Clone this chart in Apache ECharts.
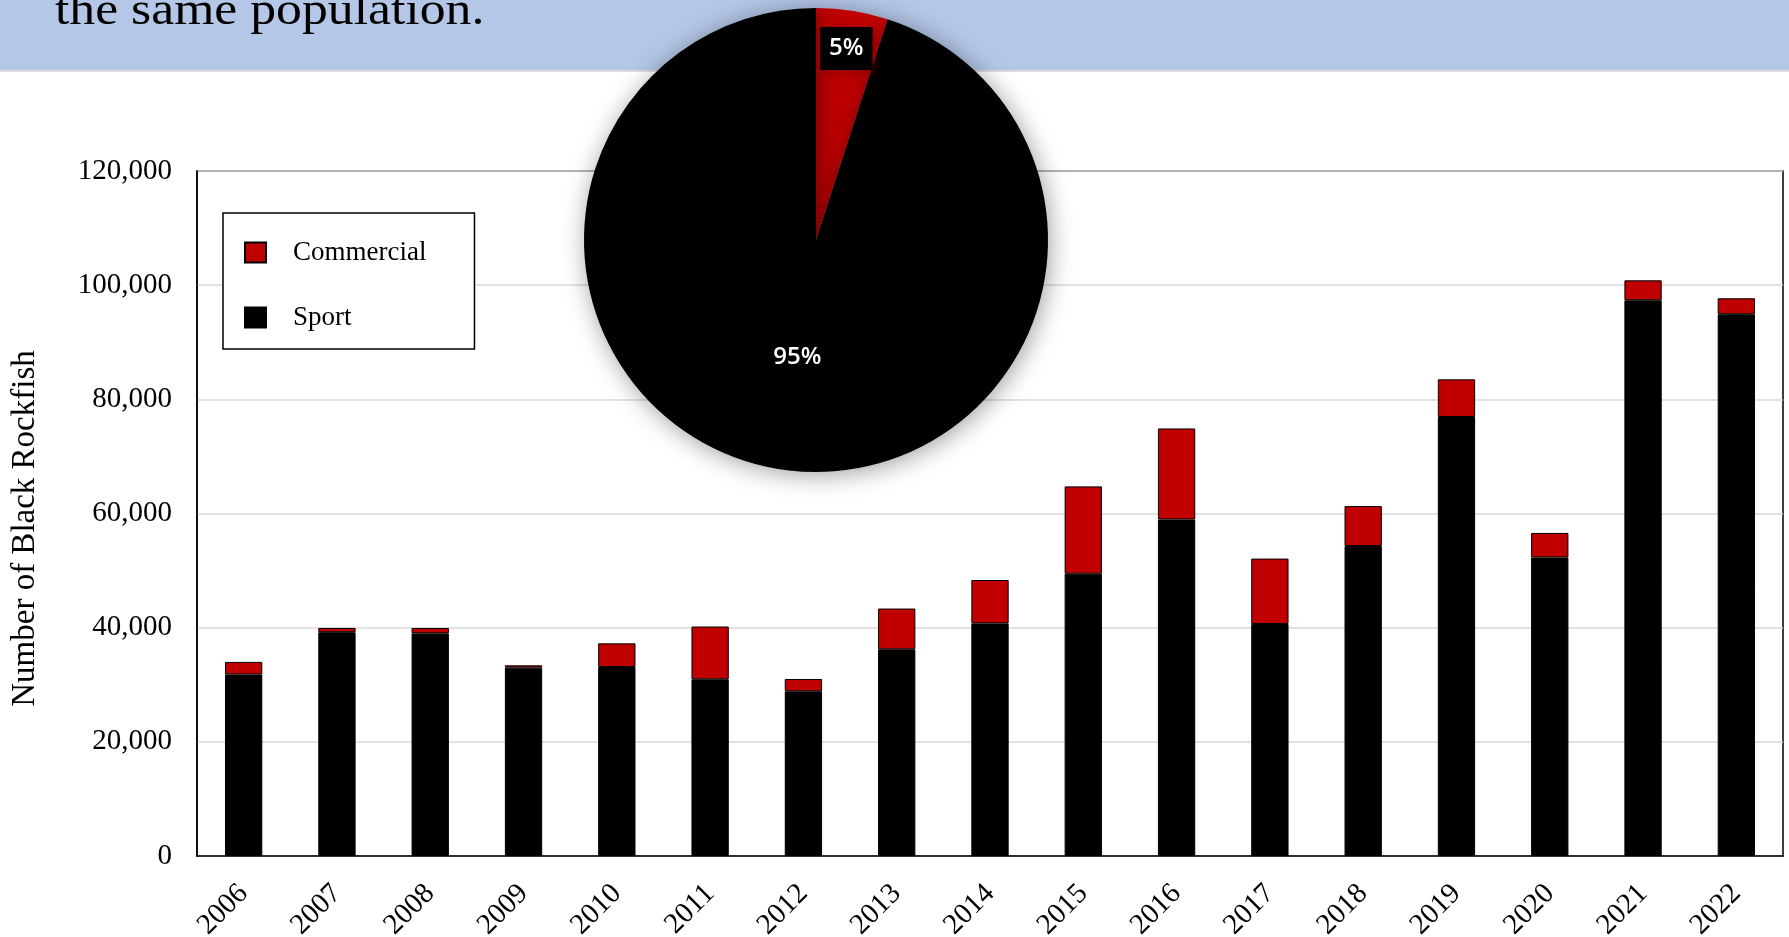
<!DOCTYPE html>
<html>
<head>
<meta charset="utf-8">
<script src="https://cdn.jsdelivr.net/npm/echarts@6/dist/echarts.min.js"></script>
<style>
html,body{margin:0;padding:0;background:#fff;}
#chart{width:1789px;height:937px;}
</style>
</head>
<body>
<div id="chart"></div>
<script>
// ---- data ----
const years = ['2006','2007','2008','2009','2010','2011','2012','2013','2014','2015','2016','2017','2018','2019','2020','2021','2022'];
const sport = [31800, 39200, 39000, 33000, 33100, 30950, 28850, 36200, 40750, 49450, 58950, 40650, 54300, 76900, 52300, 97350, 94900];
const commercial = [2200, 750, 950, 400, 4150, 9250, 2150, 7150, 7600, 15300, 15950, 11450, 7000, 6600, 4300, 3500, 2800];
const pieNames = ['Commercial', 'Sport'];
const pieShares = [5, 95];
const yTicks = { min: 0, max: 120000, step: 20000 };
const bannerText = 'the same population.';
const yTitle = 'Number of Black Rockfish';

const RED = '#c00000';
const BLACK = '#000000';
const SERIF = '"Liberation Serif", "Times New Roman", serif';
const SANS = '"Open Sans", "Noto Sans", sans-serif';

const chart = echarts.init(document.getElementById('chart'));

const pieData = pieNames.map((n, i) => ({
  name: n,
  value: pieShares[i],
  itemStyle: { color: i === 0 ? RED : BLACK }
}));

const option = {
  animation: false,
  backgroundColor: '#ffffff',
  graphic: [
    { type: 'rect', z: 0, zlevel: 0, silent: true,
      shape: { x: 0, y: 0, width: 1789, height: 70 },
      style: { fill: '#b4c7e7' } },
    { type: 'rect', z: 0, silent: true,
      shape: { x: 0, y: 70, width: 1789, height: 2 },
      style: { fill: '#dcdcdc' } },
    { type: 'text', z: 1, silent: true,
      x: 55, y: 12, scaleX: 1.1,
      style: { text: bannerText, font: '47px ' + SERIF, fill: '#000', verticalAlign: 'middle', align: 'left' } }
  ],
  legend: {
    orient: 'vertical',
    left: 223, top: 213,
    data: ['Commercial', 'Sport'],
    backgroundColor: '#fff',
    borderColor: '#000',
    borderWidth: 1.5,
    borderRadius: 0,
    padding: [26, 48, 18, 21],
    itemWidth: 21, itemHeight: 20, itemGap: 38,
    icon: 'rect',
    textStyle: { fontFamily: SERIF, fontSize: 27, color: '#000', padding: [0, 0, 0, 22] },
    z: 5
  },
  grid: {
    left: 197, right: 6, top: 171, bottom: 81,
    outerBoundsMode: 'none',
    containLabel: false,
    show: true, borderColor: '#000', borderWidth: 1.5, backgroundColor: 'transparent'
  },
  xAxis: {
    type: 'category',
    data: years,
    axisLine: { lineStyle: { color: '#000', width: 1.5 } },
    axisTick: { show: false },
    axisLabel: { rotate: 45, interval: 0, margin: 33, fontFamily: SERIF, fontSize: 29, color: '#000' }
  },
  yAxis: {
    type: 'value',
    min: yTicks.min, max: yTicks.max, interval: yTicks.step,
    name: yTitle,
    nameLocation: 'middle',
    nameGap: 155,
    nameTextStyle: { fontFamily: SERIF, fontSize: 33, color: '#000', padding: [0, 30, 0, 0] },
    axisLine: { show: true, lineStyle: { color: '#000', width: 1.5 } },
    axisTick: { show: false },
    splitLine: { lineStyle: { color: '#d9d9d9', width: 1.5 } },
    axisLabel: { margin: 25, fontFamily: SERIF, fontSize: 29, color: '#000',
      formatter: v => v.toLocaleString('en-US') }
  },
  series: [
    { name: 'Sport', type: 'bar', stack: 'total', data: sport, barWidth: '40%',
      itemStyle: { color: BLACK, borderColor: '#000', borderWidth: 1 } },
    { name: 'Commercial', type: 'bar', stack: 'total', data: commercial, barWidth: '40%',
      itemStyle: { color: RED, borderColor: '#000', borderWidth: 1 } },
    { name: 'share', type: 'pie', z: 10,
      center: [816, 240], radius: 232,
      startAngle: 90, clockwise: true,
      data: pieData,
      silent: true,
      legendHoverLink: false,
      itemStyle: { borderWidth: 0, shadowBlur: 24, shadowColor: 'rgba(0,0,0,0.38)', shadowOffsetX: 2, shadowOffsetY: 3 },
      label: { show: true, position: 'inside', formatter: p => (p.dataIndex === 1 ? p.value + '%' : ''),
        fontFamily: SANS, fontWeight: 600, fontSize: 24, color: '#fff' },
      labelLine: { show: false }
    },
    { name: 'shareLabel', type: 'pie', z: 11,
      center: [816, 240], radius: [150, 232],
      startAngle: 90, clockwise: true,
      data: pieData.map((d, i) => ({ name: d.name, value: d.value,
        itemStyle: { color: 'rgba(0,0,0,0)' },
        label: { show: i === 0 } })),
      silent: true,
      label: { position: 'inside',
        formatter: p => p.value + '%',
        fontFamily: SANS, fontWeight: 600, fontSize: 24, color: '#fff',
        backgroundColor: '#000', padding: [10, 9, 9, 9],
        shadowBlur: 8, shadowColor: 'rgba(120,0,0,0.6)', shadowOffsetX: 1, shadowOffsetY: 3 },
      labelLine: { show: false }
    }
  ]
};
chart.setOption(option);
</script>
</body>
</html>
